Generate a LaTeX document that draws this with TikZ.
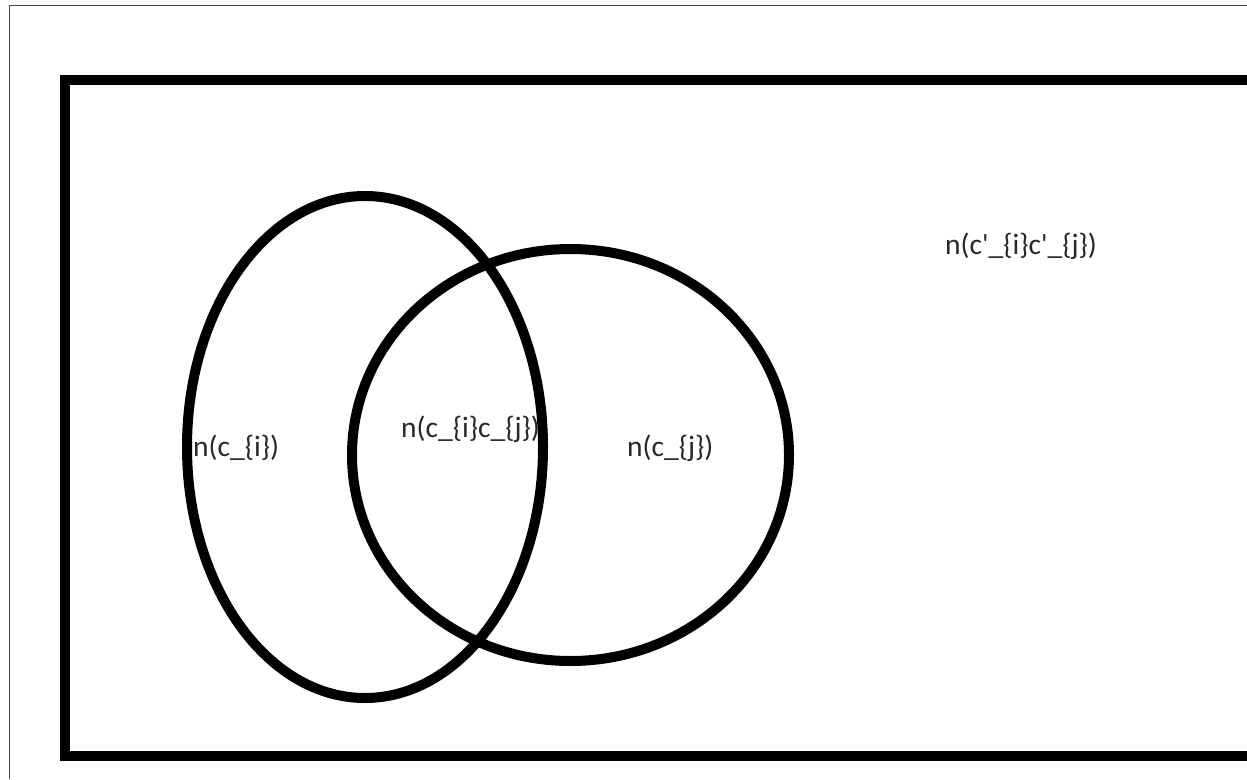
\documentclass[tikz,border=0pt]{standalone}
\usepackage{fontspec}
\setmainfont{Carlito}
\usetikzlibrary{shapes.geometric}
\definecolor{txt}{RGB}{40,40,40}
\definecolor{frame}{RGB}{70,70,70}
\tikzset{
  setline/.style={draw=black, line width=10pt},
  setshape/.style={setline, ellipse, inner sep=0pt},
  lbl/.style={anchor=west, inner sep=0pt, text=txt, font=\fontsize{29.5}{34}\selectfont}
}
\begin{document}
\begin{tikzpicture}[x=1pt, y=-1pt]
\useasboundingbox (0,0) rectangle (1247,779);
\clip (0,0) rectangle (1247,779);
\fill[white] (0,0) rectangle (1247,779);
% thin outer frame
\draw[frame, line width=1.5pt] (9.5,779) -- (9.5,5.5) -- (1247,5.5);
% universe rectangle
\draw[setline, line join=miter] (1270,79.5) -- (65,79.5) -- (65,756) -- (1270,756);
% sets
\node[setshape, minimum width=356pt, minimum height=502pt] (ci) at (365,447) {};
\node[setshape, minimum width=437pt, minimum height=412pt] (cj) at (570.5,455) {};
% labels
\node[lbl] (li) at (193,448) {n(c\_\{i\})};
\node[lbl] (lij) at (401,429) {n(c\_\{i\}c\_\{j\})};
\node[lbl] (lj) at (627,448) {n(c\_\{j\})};
\node[lbl] (lc) at (945,246) {n(c\textquotesingle\_\{i\}c\textquotesingle\_\{j\})};
\end{tikzpicture}
\end{document}
